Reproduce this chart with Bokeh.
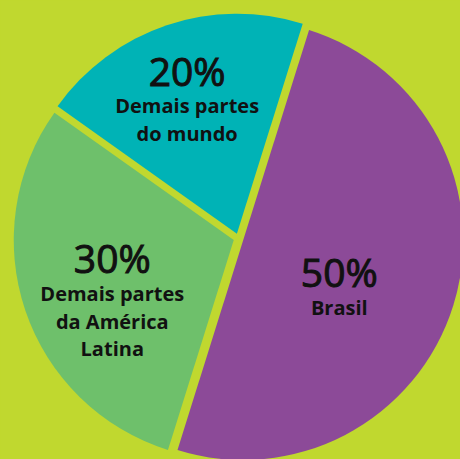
import math
from bokeh.plotting import figure
from bokeh.models import ColumnDataSource
from bokeh.core.properties import value
from bokeh.embed import file_html
from bokeh.resources import INLINE

# ---- data ----
categories = ["Brasil", "Demais partes da América Latina", "Demais partes do mundo"]
values = [50, 30, 20]
pct_labels = ["50%", "30%", "20%"]
label_lines = [["Brasil"], ["Demais partes", "da América", "Latina"], ["Demais partes", "do mundo"]]

# ---- style ----
colors = ["#8C4A98", "#6EC06B", "#00B3B6"]
bg = "#C0D82F"
text_color = "#111111"
W, H = 460, 459
cx, cy = 238, H - 238          # pie centre (data units == px)
R = 220
explode = 5
start_deg = 72.6               # first slice starts here, running clockwise
label_r = [112, 131, 161]
label_dangle = [-8.5, -3.1, 0.0]
pct_size = 39
lab_size = 20
line_gap = 27.5
shift = 0.4                    # baseline compensation (em)

p = figure(width=W, height=H, x_range=(0, W), y_range=(0, H),
           output_backend="svg", toolbar_location=None,
           x_axis_location=None, y_axis_location=None,
           background_fill_color=bg, border_fill_color=bg, min_border=0)
p.grid.visible = False
p.outline_line_color = None

total = sum(values)
a = start_deg
xs, ys, sa, ea = [], [], [], []
px_, py_, pt_ = [], [], []
lx_, ly_, lt_ = [], [], []
for i, v in enumerate(values):
    span = 360.0 * v / total
    a0, a1 = a, a - span
    mid = math.radians((a0 + a1) / 2)
    xs.append(cx + explode * math.cos(mid))
    ys.append(cy + explode * math.sin(mid))
    sa.append(math.radians(a0))
    ea.append(math.radians(a1))
    la = mid + math.radians(label_dangle[i])
    lx = cx + label_r[i] * math.cos(la)
    ly = cy + label_r[i] * math.sin(la)
    px_.append(lx); py_.append(ly + shift * pct_size); pt_.append(pct_labels[i])
    for j, line in enumerate(label_lines[i]):
        lx_.append(lx); ly_.append(ly - 28 - j * line_gap + shift * lab_size); lt_.append(line)
    a = a1

src = ColumnDataSource(dict(x=xs, y=ys, start=sa, end=ea, color=colors, cat=categories))
p.wedge(x="x", y="y", radius=R, start_angle="start", end_angle="end", direction="clock",
        fill_color="color", line_color=None, source=src)

r_pct = p.text(x=px_, y=py_, text=pt_, text_font_size=f"{pct_size}px",
               text_font=value("Open Sans"), text_font_style="normal", text_color=text_color,
               text_align="center", text_baseline="alphabetic")
if "text_outline_color" in r_pct.glyph.properties():
    r_pct.glyph.text_outline_color = text_color
p.text(x=lx_, y=ly_, text=lt_, text_font_size=f"{lab_size}px",
       text_font=value("Open Sans"), text_font_style="bold", text_color=text_color,
       text_align="center", text_baseline="alphabetic")

html = file_html(p, INLINE)
html = html.replace("<head>", "<head><style>html,body{margin:0;padding:0;background:%s;overflow:hidden}</style>" % bg, 1)
open("out.html", "w").write(html)
